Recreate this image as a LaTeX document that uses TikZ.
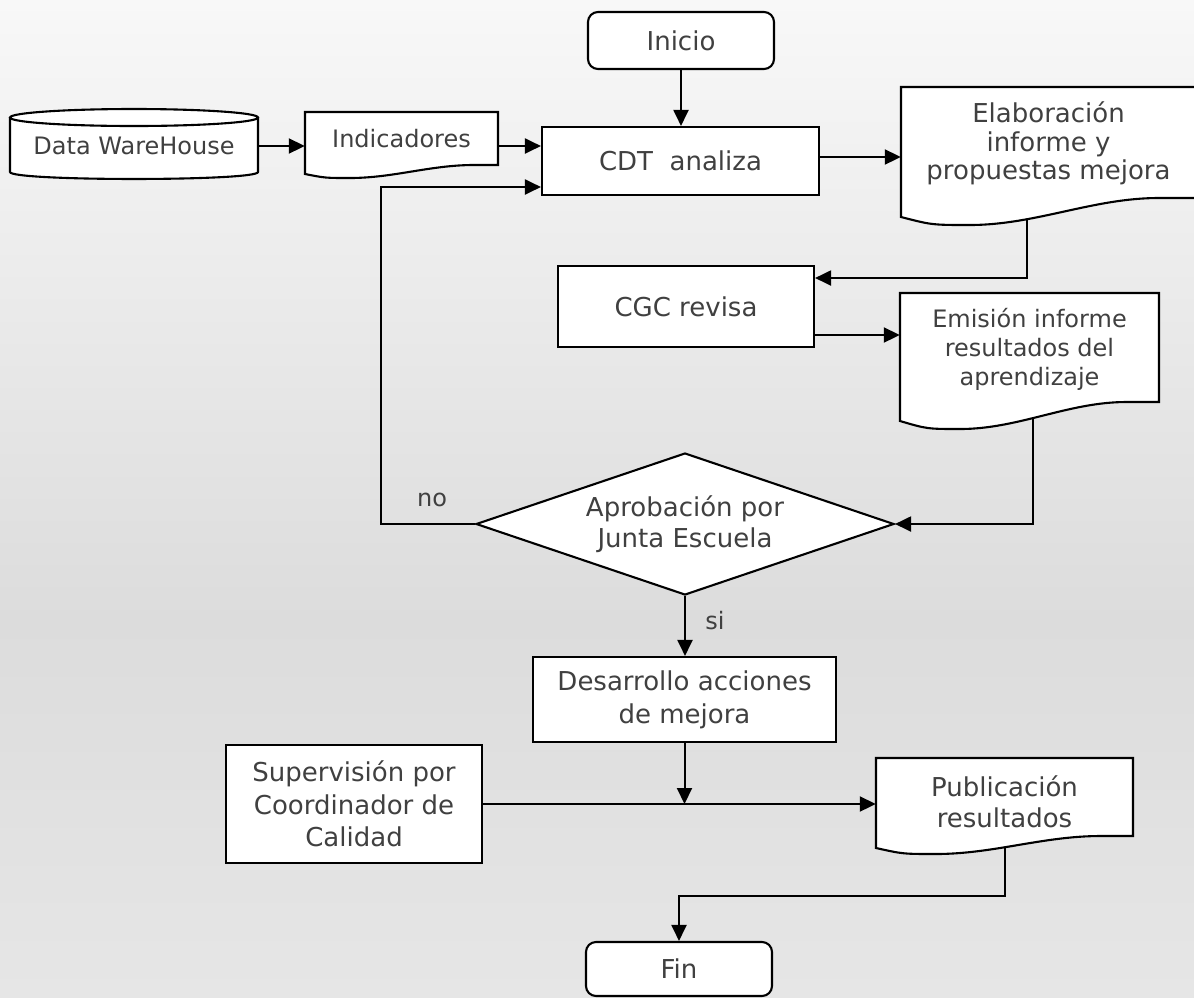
\documentclass[tikz,border=0pt]{standalone}
\usepackage{fontspec}
\setmainfont{DejaVu Sans}
\usetikzlibrary{arrows.meta,shapes.geometric,calc}
\pgfdeclarelayer{bg}
\pgfdeclarelayer{lines}
\pgfsetlayers{bg,lines,main}
\definecolor{txt}{HTML}{404040}
\definecolor{bgtop}{HTML}{F8F8F8}
\definecolor{bgmid}{HTML}{DCDCDC}
\definecolor{bgbot}{HTML}{E6E6E6}
\newcommand\docshape[6]{%
  \pgfmathsetmacro\docW{#3-#1}%
  \pgfmathsetmacro\docXm{#1+0.233*\docW}%
  \pgfmathsetmacro\docXf{#1+0.874*\docW}%
  \pgfmathsetmacro\docCa{\docXm+0.35*(\docXf-\docXm)}%
  \pgfmathsetmacro\docCb{\docXf-0.35*(\docXf-\docXm)}%
  \pgfmathsetmacro\docCl{#1+0.45*(\docXm-#1)}%
  \draw[shp] (#1,#2) -- (#3,#2) -- (#3,#4) -- (\docXf,#4)
    .. controls (\docCb,#4) and (\docCa,#6) .. (\docXm,#6)
    .. controls (\docCl,#6) .. (#1,#5) -- cycle;}
\begin{document}
\begin{tikzpicture}[x=1pt,y=-1pt,
  every node/.style={text=txt, inner sep=0pt, align=center},
  big/.style={font=\fontsize{26}{32.5}\selectfont},
  small/.style={font=\fontsize{24}{29}\selectfont},
  shp/.style={draw=black, fill=white, line width=2.1pt, line join=miter},
  box/.style={shp, rectangle, big},
  term/.style={shp, rectangle, rounded corners=10pt, big},
  dia/.style={shp, diamond, big},
  arr/.style={draw=black, line width=2pt, -{Triangle[length=16pt,width=15pt]}},
  lbl/.style={font=\fontsize{24}{29}\selectfont}]
\useasboundingbox (0,0) rectangle (1194,997);
\begin{pgfonlayer}{bg}
  \shade[top color=bgtop, bottom color=bgmid] (0,0) rectangle (1194,620);
  \shade[top color=bgmid, bottom color=bgbot] (0,619.5) rectangle (1194,997);
\end{pgfonlayer}

% Inicio
\node[term, minimum width=186, minimum height=57] (ini) at (681,40.5) {Inicio};

% Data WareHouse cylinder
\path[fill=white] (10,117.5) -- (10,172) .. controls (10,181.3) and (258,181.3) .. (258,172) -- (258,117.5) -- cycle;
\draw[line width=2.1pt] (10,117.5) -- (10,172) .. controls (10,181.3) and (258,181.3) .. (258,172) -- (258,117.5);
\draw[shp] (134,117.5) ellipse [x radius=124, y radius=8.5];
\node[small, minimum width=248, minimum height=40] (dw) at (134,146) {Data WareHouse};

% Indicadores
\docshape{305}{112}{498}{165}{174}{178}
\node[small, minimum width=193, minimum height=53] (ind) at (401.5,138.5) {Indicadores};

% CDT analiza
\node[box, minimum width=277, minimum height=68] (cdt) at (680.5,161) {CDT\ \ analiza};

% Elaboracion
\docshape{901}{87}{1196}{198}{217}{225}
\node[font=\fontsize{26}{28.5}\selectfont, minimum width=295, minimum height=111] (elab) at (1048.5,143.5) {Elaboración\\informe y\\propuestas mejora};

% CGC revisa
\node[box, minimum width=256, minimum height=81] (cgc) at (686,306.5) {CGC revisa};

% Emision
\docshape{900}{293}{1159}{402}{421}{429}
\node[small, minimum width=259, minimum height=109] (emi) at (1029.5,349) {Emisión informe\\resultados del\\aprendizaje};

% Decision
\node[dia, font=\fontsize{26}{31}\selectfont, minimum width=418, minimum height=142, aspect=2.94] (apr) at (685,524) {Aprobación por\\Junta Escuela};
\node[lbl] (no) at (432,500) {no};
\node[lbl] (si) at (715,621) {si};

% Desarrollo
\node[box, font=\fontsize{26}{33}\selectfont, minimum width=303, minimum height=85] (des) at (684.5,699.5) {Desarrollo acciones\\de mejora};

% Supervision
\node[box, minimum width=256, minimum height=118] (sup) at (354,804) {Supervisión por\\Coordinador de\\Calidad};

% Publicacion
\docshape{876}{758}{1133}{836}{848}{854}
\node[font=\fontsize{26}{31}\selectfont, minimum width=257, minimum height=78] (pub) at (1004.5,802) {Publicación\\resultados};

% Fin
\node[term, minimum width=186, minimum height=54] (fin) at (679,969) {Fin};

% connectors
\begin{pgfonlayer}{lines}
  \draw[arr] (ini.south) -- (ini.south |- cdt.north);
  \draw[arr] (dw.east) -- (ind.west |- dw.east);
  \draw[arr] (ind.east |- 0,146) -- (cdt.west |- 0,146);
  \draw[arr] (apr.west) -- (apr.west -| 381,0) |- (cdt.west |- 0,187);
  \draw[arr] (cdt.east |- 0,157) -- (elab.west |- 0,157);
  \draw[arr] (elab.center -| 1027,0) |- (cgc.east |- 0,278);
  \draw[arr] (cgc.east |- 0,335) -- (emi.west |- 0,335);
  \draw[arr] (emi.center -| 1033,0) |- (apr.east);
  \draw[arr] (apr.south) -- (apr.south |- des.north);
  \draw[arr] (des.south) -- (des.south |- sup.east);
  \draw[arr] (sup.east) -- (pub.west |- sup.east);
  \draw[arr] (pub.center) |- (fin.north |- 0,896) -- (fin.north);
\end{pgfonlayer}
\end{tikzpicture}
\end{document}
